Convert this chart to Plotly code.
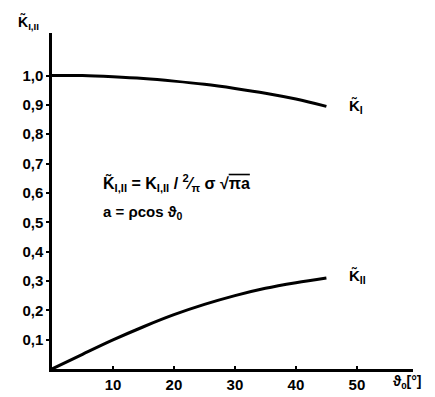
import plotly.graph_objects as go

theta = [0, 5, 10, 15, 20, 25, 30, 35, 40, 45]
k1 = [1.0, 1.0, 0.996, 0.99, 0.981, 0.97, 0.956, 0.94, 0.92, 0.895]
k2 = [0.0, 0.05, 0.099, 0.144, 0.185, 0.22, 0.25, 0.275, 0.294, 0.31]

xticks = [10, 20, 30, 40, 50]
xticklabels = ["10", "20", "30", "40", "50"]
yticks = [0.1, 0.2, 0.3, 0.4, 0.5, 0.6, 0.7, 0.8, 0.9, 1.0]
yticklabels = ["0,1", "0,2", "0,3", "0,4", "0,5", "0,6", "0,7", "0,8", "0,9", "1,0"]

FONT = "Liberation Sans"

fig = go.Figure()
fig.add_trace(go.Scatter(x=theta, y=k1, mode="lines", line=dict(color="black", width=3, shape="spline"), showlegend=False))
fig.add_trace(go.Scatter(x=theta, y=k2, mode="lines", line=dict(color="black", width=3, shape="spline"), showlegend=False))

fig.update_layout(
    width=435, height=397,
    margin=dict(l=44, r=30, t=25, b=24),
    paper_bgcolor="white", plot_bgcolor="white",
    font=dict(family=FONT, color="black", size=14),
    xaxis=dict(range=[0, 59.2], showgrid=False, zeroline=False, showline=True, linecolor="black", linewidth=2.5,
               tickvals=xticks, ticktext=["<b>%s</b>" % t for t in xticklabels], ticks="inside", ticklen=3,
               tickcolor="black", tickwidth=1.5, tickfont=dict(size=15, family=FONT)),
    yaxis=dict(range=[0, 1.145], showgrid=False, zeroline=False, showline=True, linecolor="black", linewidth=2.5,
               tickvals=yticks, ticktext=["<b>%s</b>" % t for t in yticklabels], ticks="outside", ticklen=3,
               tickcolor="black", tickwidth=1.5, tickfont=dict(size=15, family=FONT)),
)

ann = [
    dict(x=48.3, y=0.895, text="<b>K̃<sub>I</sub></b>", xanchor="left", yanchor="middle", font=dict(size=15)),
    dict(x=48.3, y=0.315, text="<b>K̃<sub>II</sub></b>", xanchor="left", yanchor="middle", font=dict(size=15)),
    dict(x=8, y=0.635, text="<b>K̃<sub>I,II</sub> = K<sub>I,II</sub> / <sup>2</sup>⁄<sub>π</sub> σ √<span style='text-decoration:overline'>πa</span></b>",
         xanchor="left", yanchor="middle", font=dict(size=16)),
    dict(x=8, y=0.535, text="<b>a = ρcos ϑ<sub>0</sub></b>", xanchor="left", yanchor="middle", font=dict(size=15)),
    dict(xref="paper", yref="paper", x=0.94, y=-0.038, text="<b>ϑ<sub>0</sub>[°]</b>", xanchor="left", yanchor="middle", font=dict(size=14)),
    dict(xref="paper", yref="paper", x=-0.1, y=1.03, text="<b>K̃<sub>I,II</sub></b>", xanchor="left", yanchor="middle", font=dict(size=14)),
]
for a in ann:
    a.setdefault("xref", "x"); a.setdefault("yref", "y")
    a["showarrow"] = False
    fig.add_annotation(**a)

fig.write_html("out.html")
